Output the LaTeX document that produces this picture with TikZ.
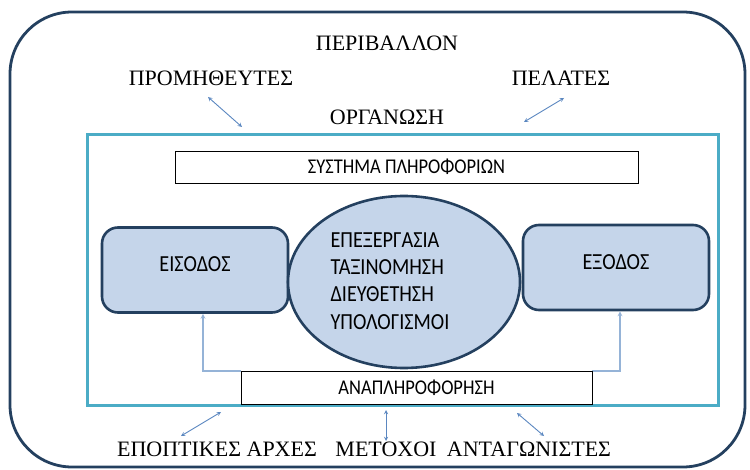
\documentclass[tikz,border=0pt]{standalone}
\usepackage{fontspec}
\usepackage{tikz}
\usepackage{xcolor}
\usetikzlibrary{shapes.geometric}
\setmainfont{Liberation Serif}
\newfontfamily\boxfont[FakeStretch=0.88]{Carlito}
\definecolor{navy}{HTML}{24405F}
\definecolor{paleblue}{HTML}{C5D5EA}
\definecolor{teal}{HTML}{4BACC6}
\definecolor{linkblue}{HTML}{5B87C0}
\definecolor{fbblue}{HTML}{95B3D7}

\begin{document}
\begin{tikzpicture}[
    x=1pt, y=-1pt, >=stealth,
    envtext/.style={font=\fontsize{22}{25}\selectfont, inner sep=0pt},
    plainbox/.style={draw=black, fill=white, line width=0.8pt, font=\boxfont\fontsize{21}{24}\selectfont},
    stagebox/.style={draw=navy, fill=paleblue, line width=2.6pt, rounded corners=16pt,
      minimum width=186pt, minimum height=85pt, text height=15pt, text depth=11pt,
      font=\boxfont\fontsize{23}{26}\selectfont},
    link/.style={<->, draw=linkblue, line width=0.9pt},
    fbline/.style={->, draw=fbblue, line width=1.2pt}
  ]
    \useasboundingbox (0,0) rectangle (750,470);
    \draw[navy, line width=2.8pt, rounded corners=62pt] (10,12) rectangle (745,467);
    \draw[teal, line width=3pt] (87,135) rectangle (718,405);

    \node[envtext] (env) at (387,43) {ΠΕΡΙΒΑΛΛΟΝ};
    \node[envtext] (sup) at (211,78) {ΠΡΟΜΗΘΕΥΤΕΣ};
    \node[envtext] (cus) at (561,78) {ΠΕΛΑΤΕΣ};
    \node[envtext] (org) at (387,117) {ΟΡΓΑΝΩΣΗ};
    \node[envtext] (reg) at (217,449) {ΕΠΟΠΤΙΚΕΣ ΑΡΧΕΣ};
    \node[envtext] (shr) at (386,449) {ΜΕΤΟΧΟΙ};
    \node[envtext] (cmp) at (529,449) {ΑΝΤΑΓΩΝΙΣΤΕΣ};

    \node[plainbox, minimum width=463pt, minimum height=32pt] (info) at (406.5,167) {ΣΥΣΤΗΜΑ ΠΛΗΡΟΦΟΡΙΩΝ};
    \node[stagebox] (in) at (195,270) {ΕΙΣΟΔΟΣ};
    \node[stagebox] (out) at (616,267.5) {ΕΞΟΔΟΣ};
    \node[ellipse, draw=navy, fill=paleblue, line width=2.6pt,
      minimum width=232pt, minimum height=172pt] (proc) at (404,282) {};
    \node[align=left, font=\boxfont\fontsize{23}{27.3}\selectfont] (steps) at (390,281)
      {ΕΠΕΞΕΡΓΑΣΙΑ\\ΤΑΞΙΝΟΜΗΣΗ\\ΔΙΕΥΘΕΤΗΣΗ\\ΥΠΟΛΟΓΙΣΜΟΙ};

    \draw[fbline] (241,371) -| ([xshift=8pt]in.south);
    \draw[fbline] (592,371) -| ([xshift=4pt]out.south);
    \node[plainbox, minimum width=351pt, minimum height=33pt] (fb) at (416.5,387.5) {ΑΝΑΠΛΗΡΟΦΟΡΗΣΗ};

    \coordinate (supA) at (208,97);
    \coordinate (supB) at (242,127);
    \coordinate (cusA) at (564,98);
    \coordinate (cusB) at (524,122);
    \coordinate (regA) at (221,412);
    \coordinate (regB) at (181,436);
    \coordinate (shrA) at (386,410);
    \coordinate (shrB) at (386,441);
    \coordinate (cmpA) at (517,413);
    \coordinate (cmpB) at (544,436);
    \draw[link] (supA) -- (supB);
    \draw[link] (cusA) -- (cusB);
    \draw[link] (regA) -- (regB);
    \draw[link] (shrA) -- (shrB);
    \draw[link] (cmpA) -- (cmpB);
  \end{tikzpicture}
\end{document}
